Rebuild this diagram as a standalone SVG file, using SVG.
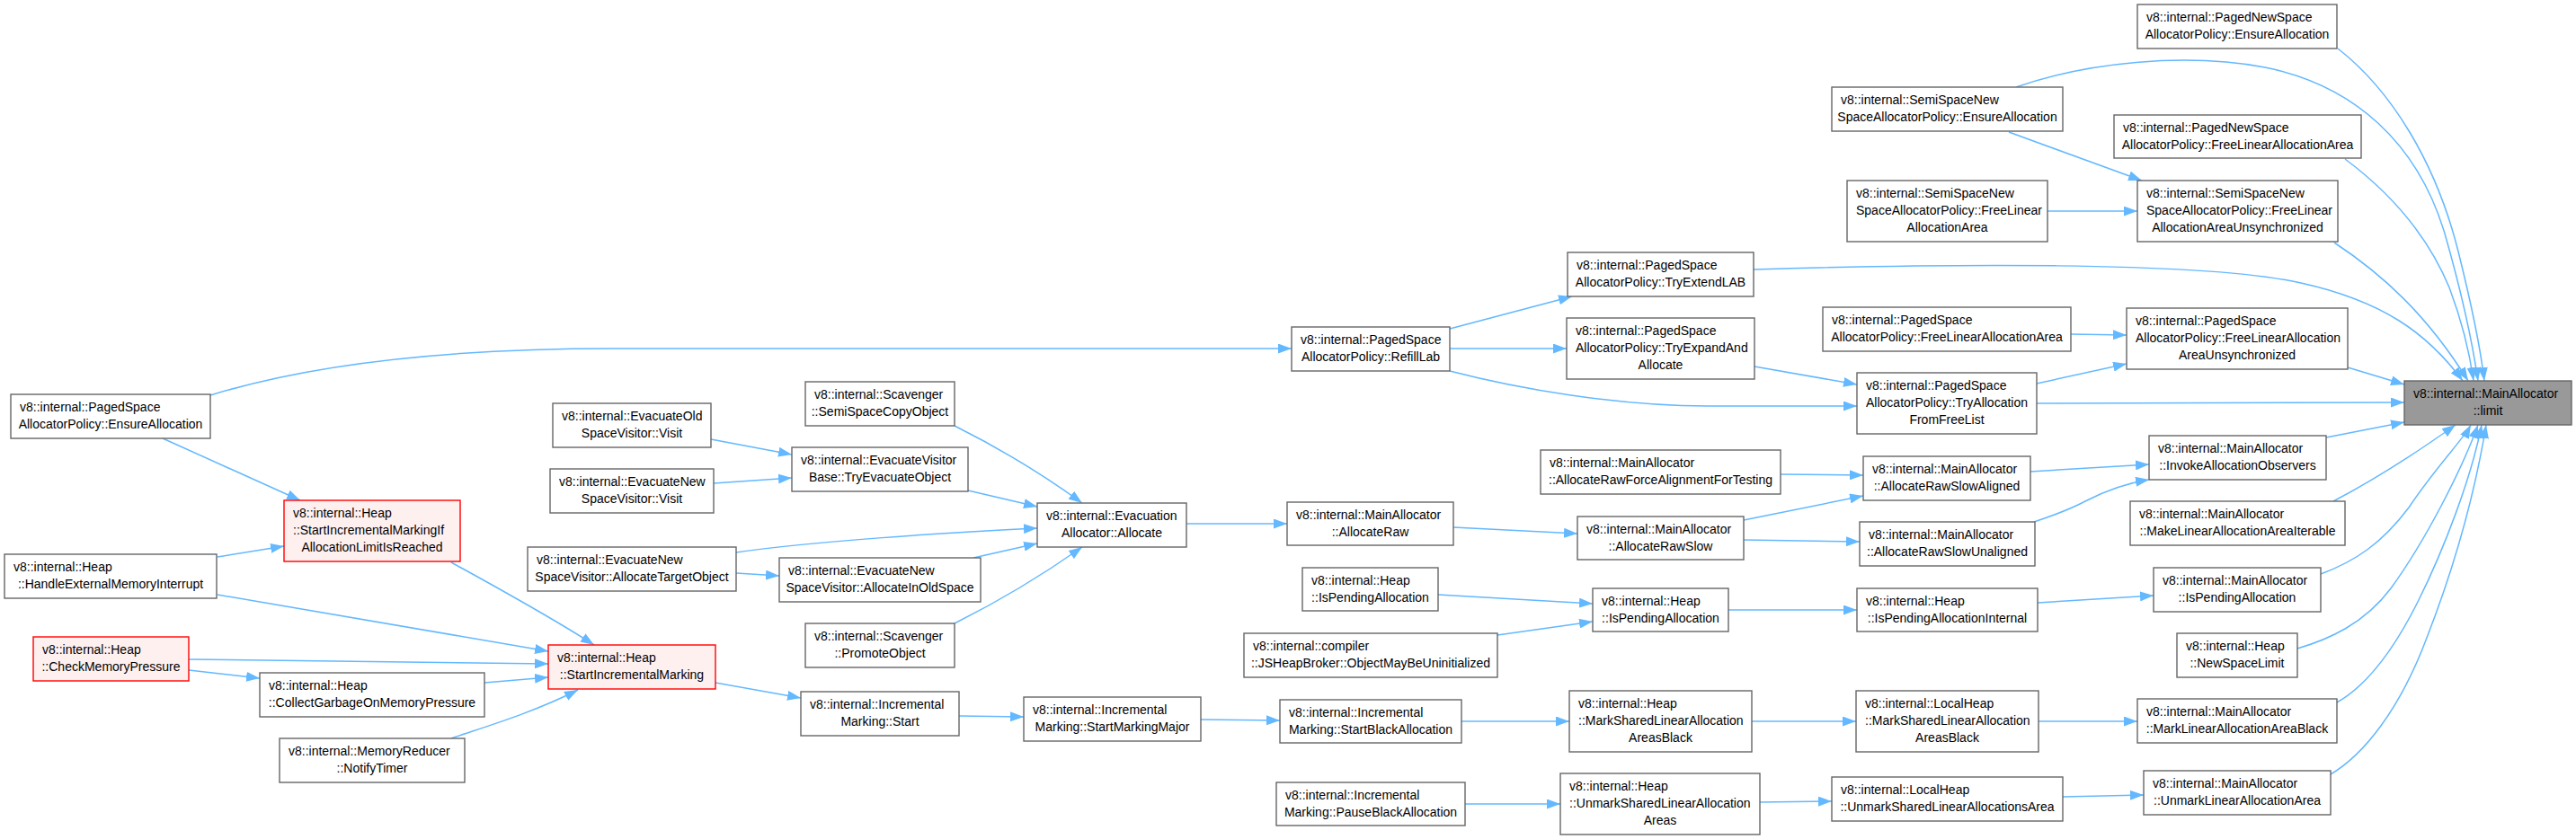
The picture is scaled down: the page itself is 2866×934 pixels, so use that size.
<svg xmlns="http://www.w3.org/2000/svg" width="2866" height="934" viewBox="0 0 2866 934">
<style>
.node rect{fill:#ffffff;stroke:#666666;stroke-width:1.4}
.red rect{fill:#fff0f0;stroke:#ff0000}
.cur rect{fill:#999999;stroke:#666666}
text{font-family:"Liberation Sans",Arial,sans-serif;font-size:14px;fill:#000000}
.c{text-anchor:middle}
#edges path{fill:none;stroke:#63b8ff;stroke-width:1.5;marker-end:url(#ah)}
</style>
<defs>
<marker id="ah" viewBox="0 0 15 11" refX="15" refY="5.5" markerWidth="15" markerHeight="11" markerUnits="userSpaceOnUse" orient="auto">
<path d="M0,0 L15,5.5 L0,11 z" fill="#63b8ff"/>
</marker>
</defs>
<rect width="2866" height="934" fill="#ffffff"/>
<g id="edges">
<path d="M234,440 C370,398 540,388 683,388 L1437,388"/>
<path d="M181,488 L334,557"/>
<path d="M242,620 L316,608"/>
<path d="M242,662 L610,725"/>
<path d="M210,734 L610,739"/>
<path d="M210,746 L289,755"/>
<path d="M539,760 L610,754"/>
<path d="M502,822 C530,812 590,795 643,768"/>
<path d="M502,626 C540,647 610,685 661,718"/>
<path d="M796,760 L891,777"/>
<path d="M1067,797 L1139,798"/>
<path d="M1336,801 L1424,802"/>
<path d="M1626,803 L1746,803"/>
<path d="M1949,803 L2065,803"/>
<path d="M2268,803 L2378,803"/>
<path d="M1630,895 L1736,895"/>
<path d="M1958,893 L2038,892"/>
<path d="M2295,887 L2385,885"/>
<path d="M791,489 L881,506"/>
<path d="M794,538 L881,532"/>
<path d="M1077,546 L1154,564"/>
<path d="M1062,474 C1110,498 1160,528 1204,560"/>
<path d="M819,615 C900,603 1050,593 1154,588"/>
<path d="M819,638 L867,641"/>
<path d="M1083,621 L1154,605"/>
<path d="M1062,694 C1110,670 1160,640 1204,609"/>
<path d="M1320,583 L1432,583"/>
<path d="M1617,587 L1755,594"/>
<path d="M1940,579 L2073,552"/>
<path d="M1940,601 L2069,603"/>
<path d="M1981,528 L2073,529"/>
<path d="M2259,525 L2391,517"/>
<path d="M2263,581 C2290,572 2305,566 2320,558 C2345,545 2365,538 2391,534"/>
<path d="M2588,487 L2675,470"/>
<path d="M1600,662 L1772,672"/>
<path d="M1666,707 L1772,692"/>
<path d="M1923,679 L2066,679"/>
<path d="M2267,671 L2396,663"/>
<path d="M1613,366 L1749,330"/>
<path d="M1613,388 L1743,388"/>
<path d="M1613,413 C1690,433 1800,452 1900,452 L2066,452"/>
<path d="M1952,408 L2066,428"/>
<path d="M1951,300 C2150,294 2450,290 2560,315 C2650,335 2700,370 2740,424"/>
<path d="M2304,372 L2366,373"/>
<path d="M2266,427 L2366,405"/>
<path d="M2612,409 L2675,428"/>
<path d="M2266,449 L2675,448"/>
<path d="M2235,147 L2383,201"/>
<path d="M2278,235 L2378,235"/>
<path d="M2243,97 C2320,70 2430,58 2520,75 C2620,95 2690,160 2720,260 C2740,330 2752,390 2757,424"/>
<path d="M2601,54 C2660,100 2710,180 2735,280 C2750,340 2760,390 2764,424"/>
<path d="M2609,177 C2660,215 2700,260 2725,320 C2740,360 2748,395 2752,424"/>
<path d="M2597,270 C2650,305 2700,350 2746,424"/>
<path d="M2596,558 C2640,535 2680,510 2732,473"/>
<path d="M2582,639 C2620,625 2650,605 2680,565 C2710,520 2740,490 2749,473"/>
<path d="M2556,722 C2590,712 2630,695 2660,655 C2700,600 2740,520 2757,473"/>
<path d="M2600,782 C2630,765 2660,730 2690,670 C2720,610 2750,530 2761,473"/>
<path d="M2593,862 C2630,840 2670,790 2700,710 C2735,620 2755,540 2766,473"/>
</g>
<g id="ps_ensure" class="node"><rect x="12" y="439" width="222" height="49"/><text x="22" y="458">v8::internal::PagedSpace</text><text class="c" x="123" y="477">AllocatorPolicy::EnsureAllocation</text></g>
<g id="sim_if" class="node red"><rect x="316" y="557" width="196" height="68"/><text x="326" y="576">v8::internal::Heap</text><text x="326" y="595">::StartIncrementalMarkingIf</text><text class="c" x="414" y="614">AllocationLimitIsReached</text></g>
<g id="handle_ext" class="node"><rect x="5" y="617" width="236" height="49"/><text x="15" y="636">v8::internal::Heap</text><text class="c" x="123" y="655">::HandleExternalMemoryInterrupt</text></g>
<g id="check_mem" class="node red"><rect x="37" y="709" width="173" height="49"/><text x="47" y="728">v8::internal::Heap</text><text class="c" x="123.5" y="747">::CheckMemoryPressure</text></g>
<g id="collect_gc" class="node"><rect x="289" y="749" width="250" height="49"/><text x="299" y="768">v8::internal::Heap</text><text class="c" x="414" y="787">::CollectGarbageOnMemoryPressure</text></g>
<g id="notify_timer" class="node"><rect x="311" y="822" width="206" height="49"/><text x="321" y="841">v8::internal::MemoryReducer</text><text class="c" x="414" y="860">::NotifyTimer</text></g>
<g id="start_im" class="node red"><rect x="610" y="718" width="186" height="49"/><text x="620" y="737">v8::internal::Heap</text><text class="c" x="703" y="756">::StartIncrementalMarking</text></g>
<g id="evac_old_visit" class="node"><rect x="615" y="449" width="176" height="49"/><text x="625" y="468">v8::internal::EvacuateOld</text><text class="c" x="703" y="487">SpaceVisitor::Visit</text></g>
<g id="evac_new_visit" class="node"><rect x="612" y="522" width="182" height="49"/><text x="622" y="541">v8::internal::EvacuateNew</text><text class="c" x="703" y="560">SpaceVisitor::Visit</text></g>
<g id="alloc_target" class="node"><rect x="587" y="609" width="232" height="49"/><text x="597" y="628">v8::internal::EvacuateNew</text><text class="c" x="703" y="647">SpaceVisitor::AllocateTargetObject</text></g>
<g id="semi_copy" class="node"><rect x="896" y="425" width="166" height="49"/><text x="906" y="444">v8::internal::Scavenger</text><text class="c" x="979" y="463">::SemiSpaceCopyObject</text></g>
<g id="try_evac" class="node"><rect x="881" y="498" width="196" height="49"/><text x="891" y="517">v8::internal::EvacuateVisitor</text><text class="c" x="979" y="536">Base::TryEvacuateObject</text></g>
<g id="alloc_old" class="node"><rect x="867" y="621" width="224" height="49"/><text x="877" y="640">v8::internal::EvacuateNew</text><text class="c" x="979" y="659">SpaceVisitor::AllocateInOldSpace</text></g>
<g id="promote" class="node"><rect x="896" y="694" width="166" height="49"/><text x="906" y="713">v8::internal::Scavenger</text><text class="c" x="979" y="732">::PromoteObject</text></g>
<g id="evac_alloc" class="node"><rect x="1154" y="560" width="166" height="49"/><text x="1164" y="579">v8::internal::Evacuation</text><text class="c" x="1237" y="598">Allocator::Allocate</text></g>
<g id="im_start" class="node"><rect x="891" y="770" width="176" height="49"/><text x="901" y="789">v8::internal::Incremental</text><text class="c" x="979" y="808">Marking::Start</text></g>
<g id="start_major" class="node"><rect x="1139" y="776" width="197" height="49"/><text x="1149" y="795">v8::internal::Incremental</text><text class="c" x="1237.5" y="814">Marking::StartMarkingMajor</text></g>
<g id="refill" class="node"><rect x="1437" y="364" width="176" height="49"/><text x="1447" y="383">v8::internal::PagedSpace</text><text class="c" x="1525" y="402">AllocatorPolicy::RefillLab</text></g>
<g id="alloc_raw" class="node"><rect x="1432" y="559" width="185" height="48"/><text x="1442" y="578">v8::internal::MainAllocator</text><text class="c" x="1524.5" y="597">::AllocateRaw</text></g>
<g id="heap_pending1" class="node"><rect x="1449" y="632" width="151" height="48"/><text x="1459" y="651">v8::internal::Heap</text><text class="c" x="1524.5" y="670">::IsPendingAllocation</text></g>
<g id="jsbroker" class="node"><rect x="1384" y="705" width="282" height="49"/><text x="1394" y="724">v8::internal::compiler</text><text class="c" x="1525" y="743">::JSHeapBroker::ObjectMayBeUninitialized</text></g>
<g id="start_black" class="node"><rect x="1424" y="779" width="202" height="48"/><text x="1434" y="798">v8::internal::Incremental</text><text class="c" x="1525" y="817">Marking::StartBlackAllocation</text></g>
<g id="pause_black" class="node"><rect x="1420" y="871" width="210" height="48"/><text x="1430" y="890">v8::internal::Incremental</text><text class="c" x="1525" y="909">Marking::PauseBlackAllocation</text></g>
<g id="try_extend" class="node"><rect x="1744" y="281" width="207" height="49"/><text x="1754" y="300">v8::internal::PagedSpace</text><text class="c" x="1847.5" y="319">AllocatorPolicy::TryExtendLAB</text></g>
<g id="try_expand" class="node"><rect x="1743" y="354" width="209" height="68"/><text x="1753" y="373">v8::internal::PagedSpace</text><text x="1753" y="392">AllocatorPolicy::TryExpandAnd</text><text class="c" x="1847.5" y="411">Allocate</text></g>
<g id="force_align" class="node"><rect x="1714" y="501" width="267" height="49"/><text x="1724" y="520">v8::internal::MainAllocator</text><text class="c" x="1847.5" y="539">::AllocateRawForceAlignmentForTesting</text></g>
<g id="raw_slow" class="node"><rect x="1755" y="575" width="185" height="48"/><text x="1765" y="594">v8::internal::MainAllocator</text><text class="c" x="1847.5" y="613">::AllocateRawSlow</text></g>
<g id="heap_pending2" class="node"><rect x="1772" y="655" width="151" height="48"/><text x="1782" y="674">v8::internal::Heap</text><text class="c" x="1847.5" y="693">::IsPendingAllocation</text></g>
<g id="heap_mark_shared" class="node"><rect x="1746" y="769" width="203" height="68"/><text x="1756" y="788">v8::internal::Heap</text><text x="1756" y="807">::MarkSharedLinearAllocation</text><text class="c" x="1847.5" y="826">AreasBlack</text></g>
<g id="heap_unmark_shared" class="node"><rect x="1736" y="861" width="222" height="68"/><text x="1746" y="880">v8::internal::Heap</text><text x="1746" y="899">::UnmarkSharedLinearAllocation</text><text class="c" x="1847" y="918">Areas</text></g>
<g id="semi_ensure" class="node"><rect x="2038" y="97" width="257" height="49"/><text x="2048" y="116">v8::internal::SemiSpaceNew</text><text class="c" x="2166.5" y="135">SpaceAllocatorPolicy::EnsureAllocation</text></g>
<g id="semi_free" class="node"><rect x="2055" y="201" width="223" height="68"/><text x="2065" y="220">v8::internal::SemiSpaceNew</text><text x="2065" y="239">SpaceAllocatorPolicy::FreeLinear</text><text class="c" x="2166.5" y="258">AllocationArea</text></g>
<g id="ps_free" class="node"><rect x="2028" y="342" width="276" height="49"/><text x="2038" y="361">v8::internal::PagedSpace</text><text class="c" x="2166" y="380">AllocatorPolicy::FreeLinearAllocationArea</text></g>
<g id="try_alloc_free" class="node"><rect x="2066" y="415" width="200" height="68"/><text x="2076" y="434">v8::internal::PagedSpace</text><text x="2076" y="453">AllocatorPolicy::TryAllocation</text><text class="c" x="2166" y="472">FromFreeList</text></g>
<g id="raw_aligned" class="node"><rect x="2073" y="508" width="186" height="49"/><text x="2083" y="527">v8::internal::MainAllocator</text><text class="c" x="2166" y="546">::AllocateRawSlowAligned</text></g>
<g id="raw_unaligned" class="node"><rect x="2069" y="581" width="195" height="49"/><text x="2079" y="600">v8::internal::MainAllocator</text><text class="c" x="2166.5" y="619">::AllocateRawSlowUnaligned</text></g>
<g id="pending_internal" class="node"><rect x="2066" y="655" width="201" height="48"/><text x="2076" y="674">v8::internal::Heap</text><text class="c" x="2166.5" y="693">::IsPendingAllocationInternal</text></g>
<g id="lh_mark" class="node"><rect x="2065" y="769" width="203" height="68"/><text x="2075" y="788">v8::internal::LocalHeap</text><text x="2075" y="807">::MarkSharedLinearAllocation</text><text class="c" x="2166.5" y="826">AreasBlack</text></g>
<g id="lh_unmark" class="node"><rect x="2038" y="865" width="257" height="49"/><text x="2048" y="884">v8::internal::LocalHeap</text><text class="c" x="2166.5" y="903">::UnmarkSharedLinearAllocationsArea</text></g>
<g id="pnew_ensure" class="node"><rect x="2378" y="5" width="222" height="49"/><text x="2388" y="24">v8::internal::PagedNewSpace</text><text class="c" x="2489" y="43">AllocatorPolicy::EnsureAllocation</text></g>
<g id="pnew_free" class="node"><rect x="2352" y="128" width="275" height="48"/><text x="2362" y="147">v8::internal::PagedNewSpace</text><text class="c" x="2489.5" y="166">AllocatorPolicy::FreeLinearAllocationArea</text></g>
<g id="semi_free_unsync" class="node"><rect x="2378" y="201" width="223" height="68"/><text x="2388" y="220">v8::internal::SemiSpaceNew</text><text x="2388" y="239">SpaceAllocatorPolicy::FreeLinear</text><text class="c" x="2489.5" y="258">AllocationAreaUnsynchronized</text></g>
<g id="ps_free_unsync" class="node"><rect x="2366" y="343" width="246" height="68"/><text x="2376" y="362">v8::internal::PagedSpace</text><text x="2376" y="381">AllocatorPolicy::FreeLinearAllocation</text><text class="c" x="2489" y="400">AreaUnsynchronized</text></g>
<g id="limit" class="node cur"><rect x="2675" y="424" width="186" height="49"/><text x="2685" y="443">v8::internal::MainAllocator</text><text class="c" x="2768" y="462">::limit</text></g>
<g id="invoke_obs" class="node"><rect x="2391" y="485" width="197" height="49"/><text x="2401" y="504">v8::internal::MainAllocator</text><text class="c" x="2489.5" y="523">::InvokeAllocationObservers</text></g>
<g id="make_iter" class="node"><rect x="2370" y="558" width="239" height="49"/><text x="2380" y="577">v8::internal::MainAllocator</text><text class="c" x="2489.5" y="596">::MakeLinearAllocationAreaIterable</text></g>
<g id="ma_pending" class="node"><rect x="2396" y="632" width="186" height="49"/><text x="2406" y="651">v8::internal::MainAllocator</text><text class="c" x="2489" y="670">::IsPendingAllocation</text></g>
<g id="new_space_limit" class="node"><rect x="2422" y="705" width="134" height="49"/><text x="2432" y="724">v8::internal::Heap</text><text class="c" x="2489" y="743">::NewSpaceLimit</text></g>
<g id="mark_black" class="node"><rect x="2378" y="778" width="222" height="49"/><text x="2388" y="797">v8::internal::MainAllocator</text><text class="c" x="2489" y="816">::MarkLinearAllocationAreaBlack</text></g>
<g id="unmark_area" class="node"><rect x="2385" y="858" width="208" height="49"/><text x="2395" y="877">v8::internal::MainAllocator</text><text class="c" x="2489" y="896">::UnmarkLinearAllocationArea</text></g>
</svg>
